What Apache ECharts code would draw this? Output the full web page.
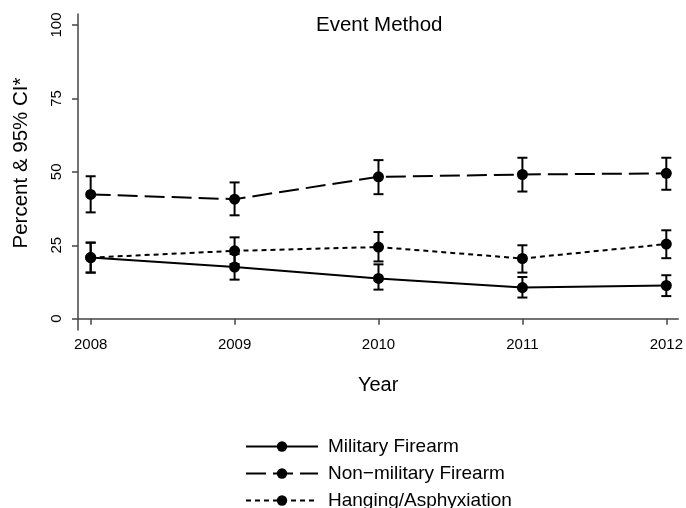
<!DOCTYPE html>
<html>
<head>
<meta charset="utf-8">
<script src="https://cdn.jsdelivr.net/npm/echarts@6/dist/echarts.min.js"></script>
<style>html,body{margin:0;padding:0;background:#fff}#c{width:686px;height:508px}</style>
</head>
<body>
<div id="c"></div>
<script>
const years = [2008, 2009, 2010, 2011, 2012];
const yTicks = [0, 25, 50, 75, 100];
const seriesNames = ['Military Firearm', 'Non\u2212military Firearm', 'Hanging/Asphyxiation'];
const military = [20.8, 17.6, 13.7, 10.6, 11.3];
const militaryLo = [15.7, 13.3, 9.9, 7.2, 7.7];
const militaryHi = [25.9, 22.0, 18.5, 14.2, 14.8];
const nonMilitary = [42.3, 40.7, 48.3, 49.1, 49.5];
const nonMilitaryLo = [36.2, 35.2, 42.4, 43.3, 43.9];
const nonMilitaryHi = [48.5, 46.4, 54.0, 54.8, 54.8];
const hanging = [20.8, 23.1, 24.4, 20.5, 25.4];
const hangingLo = [15.7, 18.6, 19.5, 15.7, 20.6];
const hangingHi = [25.9, 27.7, 29.5, 25.0, 30.1];

const FONT = '"Liberation Sans", Arial, Helvetica, sans-serif';
const AXIS = '#444';

function pts(vals) { return years.map((y, i) => [y, vals[i]]); }
function bars(lo, hi) { return years.map((y, i) => [y, lo[i], hi[i]]); }

function errRender(params, api) {
  const x = api.value(0);
  const a = api.coord([x, api.value(1)]);
  const b = api.coord([x, api.value(2)]);
  const cap = 5;
  const st = { stroke: '#000', lineWidth: 2 };
  return {
    type: 'group',
    children: [
      { type: 'line', shape: { x1: a[0], y1: a[1], x2: b[0], y2: b[1] }, style: st },
      { type: 'line', shape: { x1: a[0] - cap, y1: a[1], x2: a[0] + cap, y2: a[1] }, style: st },
      { type: 'line', shape: { x1: b[0] - cap, y1: b[1], x2: b[0] + cap, y2: b[1] }, style: st }
    ]
  };
}

function lineSeries(name, vals, dash) {
  return {
    name: name, type: 'line', data: pts(vals),
    symbol: 'circle', symbolSize: 11,
    itemStyle: { color: '#000' },
    lineStyle: { color: '#000', width: 2, type: dash },
    z: 3, animation: false
  };
}
function errSeries(lo, hi) {
  return { type: 'custom', renderItem: errRender, data: bars(lo, hi), z: 2, animation: false, silent: true };
}

const chart = echarts.init(document.getElementById('c'), null, { renderer: 'canvas' });
chart.setOption({
  animation: false,
  backgroundColor: '#fff',
  textStyle: { fontFamily: FONT },
  title: {
    text: 'Event Method', left: 311, top: 10,
    textStyle: { fontFamily: FONT, fontSize: 20.5, fontWeight: 'normal', color: '#000' }
  },
  grid: { left: 78, right: 6, top: 14, bottom: 178, containLabel: false },
  xAxis: {
    type: 'value', min: 2007.912, max: 2012.083,
    name: 'Year', nameLocation: 'middle', nameGap: 45,
    nameTextStyle: { fontFamily: FONT, fontSize: 20, color: '#000' },
    axisLine: { lineStyle: { color: AXIS, width: 1.5 } },
    axisTick: { length: 6, lineStyle: { color: AXIS, width: 1.5 }, customValues: years },
    axisLabel: { customValues: years, fontSize: 15, color: '#000', margin: 7, fontFamily: FONT,
      formatter: v => String(v) },
    splitLine: { show: false }
  },
  yAxis: {
    type: 'value', min: -3.85, max: 103.75,
    name: 'Percent & 95% CI*', nameLocation: 'middle', nameGap: 46,
    nameTextStyle: { fontFamily: FONT, fontSize: 20.5, color: '#000', padding: [0, 0, 0, 18] },
    axisLine: { show: true, lineStyle: { color: AXIS, width: 1.5 } },
    axisTick: { show: true, length: 6, lineStyle: { color: AXIS, width: 1.5 }, customValues: yTicks },
    axisLabel: { customValues: yTicks, fontSize: 15, color: '#000', rotate: 90, margin: 14, fontFamily: FONT,
      formatter: v => String(v) },
    splitLine: { show: false }
  },
  legend: {
    orient: 'vertical', left: 240, top: 432, height: 100,
    itemWidth: 72, itemHeight: 13, itemGap: 8,
    data: seriesNames,
    textStyle: { fontFamily: FONT, fontSize: 19, color: '#000', padding: [0, 0, 0, 5] }
  },
  series: [
    errSeries(militaryLo, militaryHi),
    errSeries(nonMilitaryLo, nonMilitaryHi),
    errSeries(hangingLo, hangingHi),
    lineSeries(seriesNames[0], military, 'solid'),
    lineSeries(seriesNames[1], nonMilitary, [20, 7]),
    lineSeries(seriesNames[2], hanging, [5, 4])
  ]
});
</script>
</body>
</html>
